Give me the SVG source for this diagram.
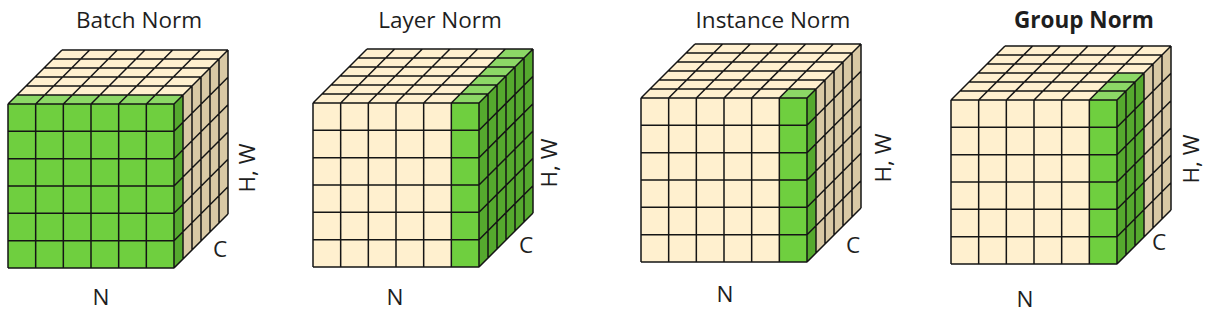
<svg xmlns="http://www.w3.org/2000/svg" xmlns:xlink="http://www.w3.org/1999/xlink" width="1211" height="312" viewBox="0 0 1211 312">
<style>
text{font-family:"Open Sans","Liberation Sans",sans-serif;font-size:22.5px;fill:#1e1e1e}
.title{text-anchor:middle}
.bold{font-weight:bold}
.front{fill:#FFF0CF}
.top{fill:#FFF0CF}
.side{fill:#D9C9A5}
.g{fill:#6FCF3F}
.gt{fill:#8CD866}
.gs{fill:#55A92E}
.grid{fill:none;stroke:#151515;stroke-width:1.5;stroke-linejoin:round}
</style>
<defs>
<g id="base">
<rect class="front" x="0" y="0" width="166" height="164"/>
<polygon class="top" points="0,0 166,0 220,-54 54,-54"/>
<polygon class="side" points="166,0 220,-54 220,110 166,164"/>
</g>
<path id="grid" class="grid" d="M0,0V164M27.67,0V164M55.33,0V164M83,0V164M110.67,0V164M138.33,0V164M166,0V164
M0,0H166M0,27.33H166M0,54.67H166M0,82H166M0,109.33H166M0,136.67H166M0,164H166
M9,-9h166M18,-18h166M27,-27h166M36,-36h166M45,-45h166M54,-54h166
M0,0l54,-54M27.67,0l54,-54M55.33,0l54,-54M83,0l54,-54M110.67,0l54,-54M138.33,0l54,-54M166,0l54,-54
M175,-9v164M184,-18v164M193,-27v164M202,-36v164M211,-45v164M220,-54v164
M166,27.33l54,-54M166,54.67l54,-54M166,82l54,-54M166,109.33l54,-54M166,136.67l54,-54M166,164l54,-54"/>
</defs>

<g id="batch-norm">
<text class="title" x="139" y="28">Batch Norm</text>
<g transform="translate(8,104)">
<use xlink:href="#base"/>
<rect class="g" x="0" y="0" width="166" height="164"/>
<polygon class="gt" points="0,0 166,0 175,-9 9,-9"/>
<polygon class="gs" points="166,0 175,-9 175,155 166,164"/>
<use xlink:href="#grid"/>
</g>
<text transform="translate(255,168) rotate(-90)" text-anchor="middle">H, W</text>
<text x="220" y="257" text-anchor="middle">C</text>
<text x="101" y="305" text-anchor="middle">N</text>
</g>

<g id="layer-norm">
<text class="title" x="440" y="28">Layer Norm</text>
<g transform="translate(313,103)">
<use xlink:href="#base"/>
<rect class="g" x="138.33" y="0" width="27.67" height="164"/>
<polygon class="gt" points="138.33,0 166,0 220,-54 192.33,-54"/>
<polygon class="gs" points="166,0 220,-54 220,110 166,164"/>
<use xlink:href="#grid"/>
</g>
<text transform="translate(557,163) rotate(-90)" text-anchor="middle">H, W</text>
<text x="526" y="253" text-anchor="middle">C</text>
<text x="395" y="305" text-anchor="middle">N</text>
</g>

<g id="instance-norm">
<text class="title" x="773" y="28">Instance Norm</text>
<g transform="translate(641,98)">
<use xlink:href="#base"/>
<rect class="g" x="138.33" y="0" width="27.67" height="164"/>
<polygon class="gt" points="138.33,0 166,0 175,-9 147.33,-9"/>
<polygon class="gs" points="166,0 175,-9 175,155 166,164"/>
<use xlink:href="#grid"/>
</g>
<text transform="translate(891,158) rotate(-90)" text-anchor="middle">H, W</text>
<text x="853" y="253" text-anchor="middle">C</text>
<text x="725" y="302" text-anchor="middle">N</text>
</g>

<g id="group-norm">
<text class="title bold" x="1084" y="28">Group Norm</text>
<g transform="translate(951,100)">
<use xlink:href="#base"/>
<rect class="g" x="138.33" y="0" width="27.67" height="164"/>
<polygon class="gt" points="138.33,0 166,0 193,-27 165.33,-27"/>
<polygon class="gs" points="166,0 193,-27 193,137 166,164"/>
<use xlink:href="#grid"/>
</g>
<text transform="translate(1199,159) rotate(-90)" text-anchor="middle">H, W</text>
<text x="1159" y="250" text-anchor="middle">C</text>
<text x="1025" y="307" text-anchor="middle">N</text>
</g>
</svg>
